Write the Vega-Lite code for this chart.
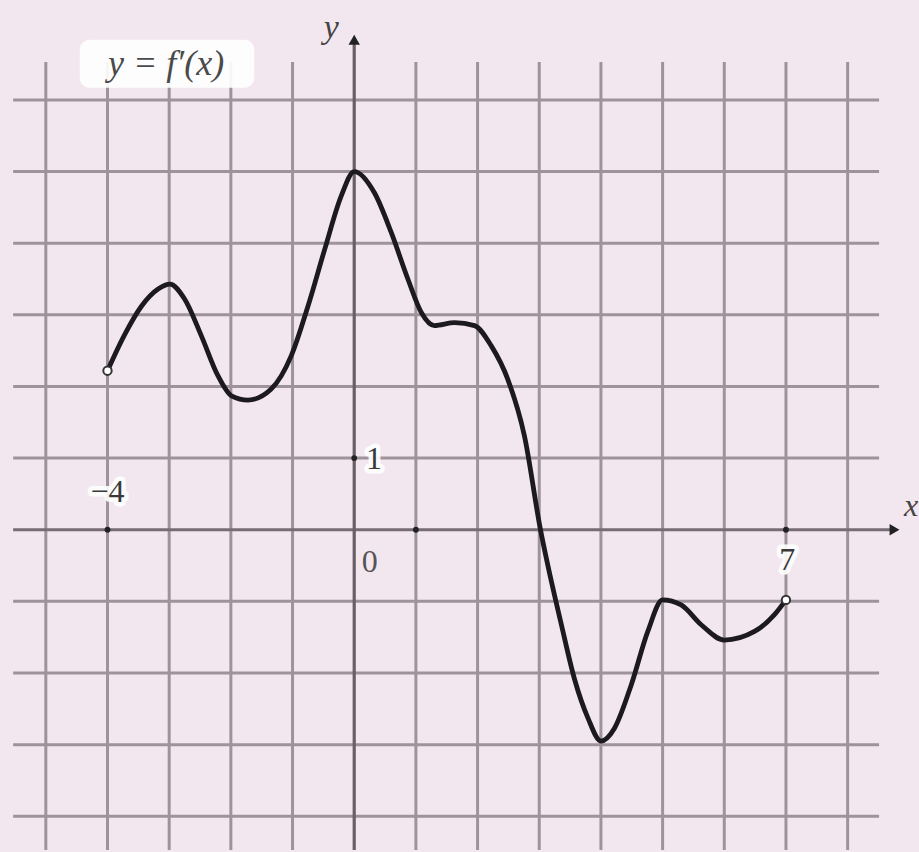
{
  "$schema": "https://vega.github.io/schema/vega-lite/v6.json",
  "width": 919,
  "height": 852,
  "autosize": {"type": "fit", "contains": "padding"},
  "padding": 0,
  "background": "#f3e7ef",
  "config": {"view": {"stroke": null}},
  "data": {"values": [{}]},
  "datasets": {
    "curve": [
      {"x": -4.0, "y": 2.22}, {"x": -3.73, "y": 2.71}, {"x": -3.45, "y": 3.12}, {"x": -3.18, "y": 3.36},
      {"x": -2.99, "y": 3.43}, {"x": -2.75, "y": 3.22}, {"x": -2.48, "y": 2.71}, {"x": -2.21, "y": 2.15},
      {"x": -1.99, "y": 1.87}, {"x": -1.72, "y": 1.81}, {"x": -1.35, "y": 1.96}, {"x": -1.02, "y": 2.43},
      {"x": -0.75, "y": 3.12}, {"x": -0.48, "y": 3.91}, {"x": -0.21, "y": 4.66}, {"x": 0.0, "y": 5.0},
      {"x": 0.33, "y": 4.7}, {"x": 0.6, "y": 4.15}, {"x": 0.87, "y": 3.5}, {"x": 1.09, "y": 3.03},
      {"x": 1.3, "y": 2.85}, {"x": 1.63, "y": 2.89}, {"x": 1.95, "y": 2.85}, {"x": 2.22, "y": 2.57},
      {"x": 2.49, "y": 2.1}, {"x": 2.76, "y": 1.31}, {"x": 3.02, "y": 0.0}, {"x": 3.14, "y": -0.5},
      {"x": 3.36, "y": -1.33}, {"x": 3.57, "y": -2.08}, {"x": 3.79, "y": -2.63}, {"x": 4.0, "y": -2.95},
      {"x": 4.22, "y": -2.77}, {"x": 4.49, "y": -2.17}, {"x": 4.76, "y": -1.42}, {"x": 5.0, "y": -0.98},
      {"x": 5.3, "y": -1.05}, {"x": 5.63, "y": -1.33}, {"x": 6.0, "y": -1.54}, {"x": 6.49, "y": -1.42},
      {"x": 6.81, "y": -1.19}, {"x": 7.0, "y": -0.98}
    ],
    "vgrid": [
      {"x": -5}, {"x": -4}, {"x": -3}, {"x": -2}, {"x": -1}, {"x": 1}, {"x": 2},
      {"x": 3}, {"x": 4}, {"x": 5}, {"x": 6}, {"x": 7}, {"x": 8}
    ],
    "hgrid": [
      {"y": -4}, {"y": -3}, {"y": -2}, {"y": -1}, {"y": 1}, {"y": 2}, {"y": 3},
      {"y": 4}, {"y": 5}, {"y": 6}
    ],
    "ends": [{"x": -4, "y": 2.22}, {"x": 7, "y": -0.98}],
    "ticks": [{"x": -4, "y": 0}, {"x": 1, "y": 0}, {"x": 7, "y": 0}, {"x": 0, "y": 1}]
  },
  "layer": [
    {
      "data": {"name": "hgrid"},
      "mark": {"type": "rule", "color": "#9e929b", "strokeWidth": 3},
      "encoding": {
        "y": {"field": "y", "type": "quantitative", "scale": {"domain": [-4.471, 7.395], "nice": false, "zero": false}, "axis": null},
        "x": {"datum": -5.53, "type": "quantitative", "scale": {"domain": [-5.743, 9.157], "nice": false, "zero": false}, "axis": null},
        "x2": {"datum": 8.51}
      }
    },
    {
      "data": {"name": "vgrid"},
      "mark": {"type": "rule", "color": "#9e929b", "strokeWidth": 3},
      "encoding": {
        "x": {"field": "x", "type": "quantitative", "scale": {"domain": [-5.743, 9.157], "nice": false, "zero": false}, "axis": null},
        "y": {"datum": -4.471, "type": "quantitative", "scale": {"domain": [-4.471, 7.395], "nice": false, "zero": false}, "axis": null},
        "y2": {"datum": 6.53}
      }
    },
    {
      "mark": {"type": "rule", "color": "#776b74", "strokeWidth": 3.2},
      "encoding": {
        "y": {"datum": 0, "type": "quantitative", "scale": {"domain": [-4.471, 7.395], "nice": false, "zero": false}, "axis": null},
        "x": {"datum": -5.53, "type": "quantitative", "scale": {"domain": [-5.743, 9.157], "nice": false, "zero": false}, "axis": null},
        "x2": {"datum": 8.7}
      }
    },
    {
      "mark": {"type": "rule", "color": "#6a5e67", "strokeWidth": 3.2},
      "encoding": {
        "x": {"datum": 0, "type": "quantitative", "scale": {"domain": [-5.743, 9.157], "nice": false, "zero": false}, "axis": null},
        "y": {"datum": -4.471, "type": "quantitative", "scale": {"domain": [-4.471, 7.395], "nice": false, "zero": false}, "axis": null},
        "y2": {"datum": 6.8}
      }
    },
    {
      "mark": {"type": "point", "shape": "triangle-up", "filled": true, "color": "#222222", "size": 130, "opacity": 1},
      "encoding": {
        "x": {"datum": 0, "type": "quantitative", "scale": {"domain": [-5.743, 9.157], "nice": false, "zero": false}, "axis": null},
        "y": {"datum": 6.84, "type": "quantitative", "scale": {"domain": [-4.471, 7.395], "nice": false, "zero": false}, "axis": null}
      }
    },
    {
      "mark": {"type": "point", "shape": "triangle-right", "filled": true, "color": "#222222", "size": 130, "opacity": 1},
      "encoding": {
        "x": {"datum": 8.76, "type": "quantitative", "scale": {"domain": [-5.743, 9.157], "nice": false, "zero": false}, "axis": null},
        "y": {"datum": 0, "type": "quantitative", "scale": {"domain": [-4.471, 7.395], "nice": false, "zero": false}, "axis": null}
      }
    },
    {
      "data": {"name": "ticks"},
      "mark": {"type": "point", "shape": "circle", "filled": true, "color": "#222222", "size": 34, "opacity": 1},
      "encoding": {
        "x": {"field": "x", "type": "quantitative", "scale": {"domain": [-5.743, 9.157], "nice": false, "zero": false}, "axis": null},
        "y": {"field": "y", "type": "quantitative", "scale": {"domain": [-4.471, 7.395], "nice": false, "zero": false}, "axis": null}
      }
    },
    {
      "mark": {"type": "rect", "color": "#ffffff", "opacity": 0.92, "cornerRadius": 10},
      "encoding": {
        "x": {"datum": -4.45, "type": "quantitative", "scale": {"domain": [-5.743, 9.157], "nice": false, "zero": false}, "axis": null},
        "x2": {"datum": -1.62},
        "y": {"datum": 6.84, "type": "quantitative", "scale": {"domain": [-4.471, 7.395], "nice": false, "zero": false}, "axis": null},
        "y2": {"datum": 6.17}
      }
    },
    {
      "data": {"name": "curve"},
      "mark": {"type": "line", "color": "#1c1a1c", "strokeWidth": 4.8, "interpolate": "monotone", "strokeCap": "round"},
      "encoding": {
        "x": {"field": "x", "type": "quantitative", "scale": {"domain": [-5.743, 9.157], "nice": false, "zero": false}, "axis": null},
        "y": {"field": "y", "type": "quantitative", "scale": {"domain": [-4.471, 7.395], "nice": false, "zero": false}, "axis": null}
      }
    },
    {
      "data": {"name": "ends"},
      "mark": {"type": "point", "shape": "circle", "filled": true, "fill": "#ffffff", "stroke": "#333333", "strokeWidth": 2, "size": 70, "opacity": 1},
      "encoding": {
        "x": {"field": "x", "type": "quantitative", "scale": {"domain": [-5.743, 9.157], "nice": false, "zero": false}, "axis": null},
        "y": {"field": "y", "type": "quantitative", "scale": {"domain": [-4.471, 7.395], "nice": false, "zero": false}, "axis": null}
      }
    },
    {
      "mark": {"type": "text", "text": "y = f′(x)", "font": "Liberation Serif", "fontStyle": "italic", "fontSize": 36, "color": "#4a4a4a", "align": "center", "baseline": "middle"},
      "encoding": {
        "x": {"datum": -3.05, "type": "quantitative", "scale": {"domain": [-5.743, 9.157], "nice": false, "zero": false}, "axis": null},
        "y": {"datum": 6.5, "type": "quantitative", "scale": {"domain": [-4.471, 7.395], "nice": false, "zero": false}, "axis": null}
      }
    },
    {
      "mark": {"type": "text", "text": "y", "font": "Liberation Serif", "fontStyle": "italic", "fontSize": 34, "color": "#444444", "align": "center", "baseline": "middle"},
      "encoding": {
        "x": {"datum": -0.37, "type": "quantitative", "scale": {"domain": [-5.743, 9.157], "nice": false, "zero": false}, "axis": null},
        "y": {"datum": 7.0, "type": "quantitative", "scale": {"domain": [-4.471, 7.395], "nice": false, "zero": false}, "axis": null}
      }
    },
    {
      "mark": {"type": "text", "text": "x", "font": "Liberation Serif", "fontStyle": "italic", "fontSize": 32, "color": "#444444", "align": "center", "baseline": "middle"},
      "encoding": {
        "x": {"datum": 9.03, "type": "quantitative", "scale": {"domain": [-5.743, 9.157], "nice": false, "zero": false}, "axis": null},
        "y": {"datum": 0.33, "type": "quantitative", "scale": {"domain": [-4.471, 7.395], "nice": false, "zero": false}, "axis": null}
      }
    },
    {
      "mark": {"type": "text", "text": "−4", "font": "Liberation Serif", "fontSize": 32, "fill": "#ffffff", "stroke": "#ffffff", "strokeWidth": 9, "strokeJoin": "round", "opacity": 0.9, "align": "center", "baseline": "middle"},
      "encoding": {
        "x": {"datum": -4.0, "type": "quantitative", "scale": {"domain": [-5.743, 9.157], "nice": false, "zero": false}, "axis": null},
        "y": {"datum": 0.53, "type": "quantitative", "scale": {"domain": [-4.471, 7.395], "nice": false, "zero": false}, "axis": null}
      }
    },
    {
      "mark": {"type": "text", "text": "−4", "font": "Liberation Serif", "fontSize": 32, "color": "#3a3a3a", "align": "center", "baseline": "middle"},
      "encoding": {
        "x": {"datum": -4.0, "type": "quantitative", "scale": {"domain": [-5.743, 9.157], "nice": false, "zero": false}, "axis": null},
        "y": {"datum": 0.53, "type": "quantitative", "scale": {"domain": [-4.471, 7.395], "nice": false, "zero": false}, "axis": null}
      }
    },
    {
      "mark": {"type": "text", "text": "1", "font": "Liberation Serif", "fontSize": 32, "fill": "#ffffff", "stroke": "#ffffff", "strokeWidth": 9, "strokeJoin": "round", "opacity": 0.9, "align": "center", "baseline": "middle"},
      "encoding": {
        "x": {"datum": 0.32, "type": "quantitative", "scale": {"domain": [-5.743, 9.157], "nice": false, "zero": false}, "axis": null},
        "y": {"datum": 0.99, "type": "quantitative", "scale": {"domain": [-4.471, 7.395], "nice": false, "zero": false}, "axis": null}
      }
    },
    {
      "mark": {"type": "text", "text": "1", "font": "Liberation Serif", "fontSize": 32, "color": "#3a3a3a", "align": "center", "baseline": "middle"},
      "encoding": {
        "x": {"datum": 0.32, "type": "quantitative", "scale": {"domain": [-5.743, 9.157], "nice": false, "zero": false}, "axis": null},
        "y": {"datum": 0.99, "type": "quantitative", "scale": {"domain": [-4.471, 7.395], "nice": false, "zero": false}, "axis": null}
      }
    },
    {
      "mark": {"type": "text", "text": "7", "font": "Liberation Serif", "fontSize": 32, "fill": "#ffffff", "stroke": "#ffffff", "strokeWidth": 9, "strokeJoin": "round", "opacity": 0.9, "align": "center", "baseline": "middle"},
      "encoding": {
        "x": {"datum": 7.02, "type": "quantitative", "scale": {"domain": [-5.743, 9.157], "nice": false, "zero": false}, "axis": null},
        "y": {"datum": -0.42, "type": "quantitative", "scale": {"domain": [-4.471, 7.395], "nice": false, "zero": false}, "axis": null}
      }
    },
    {
      "mark": {"type": "text", "text": "7", "font": "Liberation Serif", "fontSize": 32, "color": "#3a3a3a", "align": "center", "baseline": "middle"},
      "encoding": {
        "x": {"datum": 7.02, "type": "quantitative", "scale": {"domain": [-5.743, 9.157], "nice": false, "zero": false}, "axis": null},
        "y": {"datum": -0.42, "type": "quantitative", "scale": {"domain": [-4.471, 7.395], "nice": false, "zero": false}, "axis": null}
      }
    },
    {
      "mark": {"type": "text", "text": "0", "font": "Liberation Serif", "fontSize": 32, "color": "#555555", "align": "center", "baseline": "middle"},
      "encoding": {
        "x": {"datum": 0.25, "type": "quantitative", "scale": {"domain": [-5.743, 9.157], "nice": false, "zero": false}, "axis": null},
        "y": {"datum": -0.45, "type": "quantitative", "scale": {"domain": [-4.471, 7.395], "nice": false, "zero": false}, "axis": null}
      }
    }
  ]
}
